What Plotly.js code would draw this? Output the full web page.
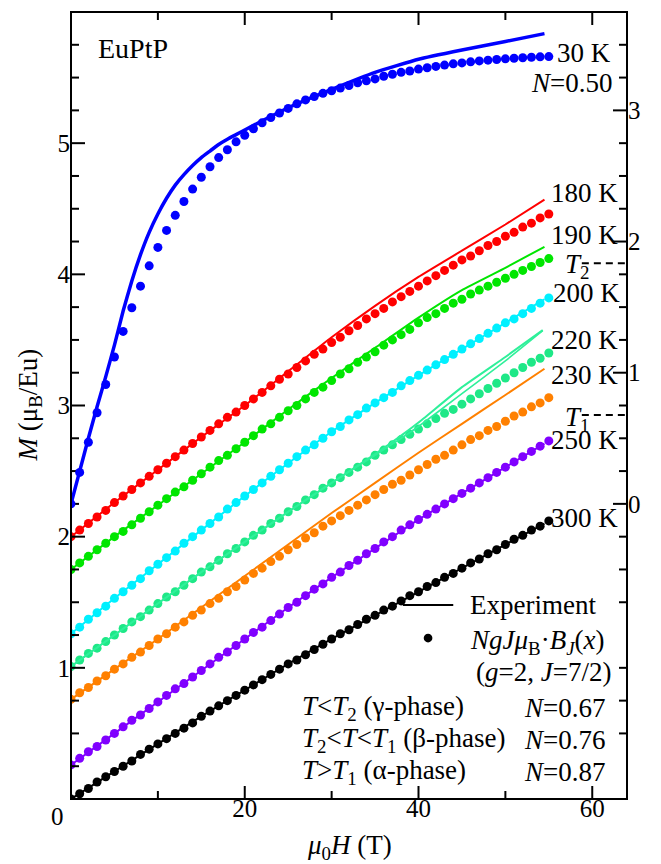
<!DOCTYPE html>
<html>
<head>
<meta charset="utf-8">
<script src="https://cdn.plot.ly/plotly-3.0.1.min.js"></script>
<style>html,body{margin:0;padding:0;background:#fff;}#chart{width:661px;height:864px;}</style>
</head>
<body>
<div id="chart"></div>
<script>
// ---- data ----
// field points of the Brillouin-fit dots (T)
var fieldDots = [0,1,2,3,4,5,6,7,8,9,10,11,12,13,14,15,16,17,18,19,20,21,22,23,24,25,26,27,28,29,30,31,32,33,34,35,36,37,38,39,40,41,42,43,44,45,46,47,48,49,50,51,52,53,54,55];
// field points of the experimental curves (T)
var fieldLine = [0,5,10,15,20,25,30,35,40,45,50,54.5];
var fieldLine30 = [0,1,2,3,4,5,6,7,8,9,10,11,12,13,14,15,16,17,18,19,20,22,25,30,35,40,45,50,54.5];
var fieldLine220 = [0,5,10,15,20,25,30,35,38,40,45,50,54.3];

// 30 K (right axis, muB/Eu)
var dots30 = [0,0.24,0.47,0.695,0.91,1.12,1.315,1.495,1.66,1.815,1.955,2.085,2.2,2.305,2.4,2.49,2.57,2.64,2.70,2.76,2.81,2.86,2.905,2.945,2.98,3.015,3.05,3.08,3.105,3.13,3.15,3.17,3.19,3.21,3.225,3.24,3.26,3.275,3.29,3.30,3.315,3.325,3.335,3.345,3.355,3.362,3.37,3.377,3.383,3.388,3.393,3.397,3.401,3.405,3.408,3.41];
var line30 = [0,0.25,0.5,0.74,0.97,1.21,1.47,1.70,1.90,2.07,2.21,2.33,2.43,2.51,2.58,2.64,2.69,2.74,2.78,2.815,2.85,2.92,3.02,3.16,3.29,3.39,3.46,3.525,3.585];

// offset curves (left axis)
var dots180 = [2.00,2.05,2.10,2.15,2.20,2.26,2.31,2.36,2.41,2.46,2.51,2.56,2.61,2.66,2.71,2.76,2.81,2.86,2.91,2.95,3.00,3.05,3.10,3.15,3.20,3.24,3.29,3.34,3.39,3.43,3.48,3.52,3.57,3.61,3.66,3.70,3.74,3.79,3.83,3.87,3.91,3.95,3.99,4.03,4.07,4.11,4.14,4.18,4.22,4.25,4.29,4.32,4.36,4.39,4.43,4.46];
var line180 = [2.00,2.26,2.51,2.76,3.00,3.26,3.52,3.76,3.98,4.18,4.38,4.57];

var dots190 = [1.75,1.80,1.85,1.90,1.95,2.00,2.04,2.09,2.14,2.19,2.24,2.29,2.34,2.38,2.43,2.48,2.53,2.58,2.62,2.67,2.72,2.77,2.82,2.86,2.91,2.96,3.00,3.05,3.10,3.14,3.19,3.24,3.28,3.33,3.37,3.41,3.46,3.50,3.54,3.58,3.63,3.67,3.70,3.74,3.78,3.81,3.85,3.88,3.91,3.94,3.97,4.00,4.03,4.06,4.09,4.12];
var line190 = [1.75,2.00,2.24,2.48,2.72,2.97,3.21,3.44,3.67,3.88,4.05,4.21];

var dots200 = [1.26,1.31,1.37,1.42,1.47,1.53,1.58,1.63,1.68,1.74,1.79,1.84,1.89,1.95,2.00,2.05,2.10,2.15,2.21,2.26,2.31,2.36,2.41,2.46,2.51,2.56,2.61,2.66,2.70,2.75,2.80,2.84,2.89,2.93,2.98,3.02,3.06,3.10,3.15,3.19,3.23,3.27,3.31,3.35,3.39,3.43,3.47,3.51,3.55,3.59,3.63,3.66,3.70,3.74,3.78,3.82];
var line200 = [1.26,1.53,1.79,2.05,2.31,2.56,2.80,3.02,3.23,3.43,3.63,3.81];

var dots220 = [1.01,1.06,1.11,1.15,1.20,1.25,1.30,1.35,1.39,1.44,1.49,1.54,1.58,1.63,1.68,1.73,1.77,1.82,1.87,1.91,1.96,2.01,2.05,2.10,2.14,2.19,2.23,2.28,2.32,2.37,2.41,2.45,2.49,2.53,2.57,2.62,2.66,2.70,2.74,2.78,2.82,2.86,2.90,2.94,2.97,3.01,3.05,3.09,3.13,3.17,3.21,3.25,3.29,3.33,3.36,3.40];
var line220up = [1.01,1.25,1.49,1.73,1.96,2.19,2.41,2.63,2.77,2.87,3.14,3.37,3.575];
var line220down = [1.01,1.25,1.49,1.73,1.96,2.19,2.41,2.62,2.75,2.84,3.09,3.34,3.57];

var dots230 = [0.76,0.81,0.85,0.90,0.94,0.99,1.03,1.08,1.12,1.17,1.22,1.26,1.31,1.35,1.40,1.44,1.49,1.53,1.58,1.62,1.67,1.72,1.76,1.81,1.85,1.90,1.94,1.99,2.03,2.08,2.12,2.16,2.20,2.24,2.28,2.32,2.36,2.40,2.43,2.47,2.51,2.55,2.59,2.62,2.66,2.70,2.74,2.77,2.81,2.84,2.88,2.92,2.95,2.99,3.02,3.06];
var line230 = [0.76,0.99,1.22,1.46,1.70,1.94,2.18,2.41,2.64,2.86,3.08,3.28];

var dots250 = [0.26,0.31,0.36,0.40,0.45,0.50,0.55,0.60,0.64,0.69,0.74,0.79,0.84,0.88,0.93,0.98,1.03,1.08,1.12,1.17,1.22,1.27,1.31,1.36,1.41,1.46,1.50,1.55,1.60,1.64,1.69,1.73,1.78,1.82,1.87,1.91,1.96,2.00,2.05,2.09,2.13,2.17,2.21,2.25,2.29,2.33,2.37,2.41,2.45,2.49,2.53,2.57,2.61,2.65,2.69,2.73];
var line250 = [0.26,0.50,0.74,0.98,1.22,1.46,1.69,1.91,2.13,2.33,2.53,2.71];

var dots300 = [0.00,0.04,0.08,0.13,0.17,0.21,0.25,0.29,0.34,0.38,0.42,0.46,0.50,0.54,0.58,0.63,0.67,0.71,0.75,0.79,0.83,0.87,0.91,0.95,0.99,1.03,1.06,1.10,1.14,1.18,1.22,1.26,1.29,1.33,1.37,1.40,1.44,1.47,1.51,1.55,1.58,1.62,1.65,1.69,1.72,1.76,1.80,1.83,1.87,1.90,1.94,1.98,2.01,2.05,2.08,2.12];
var line300 = [0,0.21,0.42,0.63,0.83,1.03,1.22,1.40,1.58,1.76,1.94,2.10];

// tick labels
var xTickVals = [0,20,40,60];
var xTickText = ['','20','40','60'];
var xMinorVals = [10,30,50];
var yTickVals = [0,1,2,3,4,5,6];
var yTickText = ['','1','2','3','4','5','6'];
var y2TickVals = [0,1,2,3];

// ---- styling ----
var FONT = 'Liberation Serif, Times New Roman, Times, serif';
var X_MAX = 64, Y_MAX = 6;
var PX_X = 8.69, PX_Y = 131.2;   // pixels per axis unit, used for tick-mark lengths
function quarterTicks(lo, hi) {
  var v = [];
  for (var k = Math.round(lo * 4); k <= Math.round(hi * 4); k++) { if (k % 4 !== 0) v.push(k / 4); }
  return v;
}

var series = [
  {dots: dots300, line: line300, lx: fieldLine, color: '#000000', axis: 'y'},
  {dots: dots250, line: line250, lx: fieldLine, color: '#8000ff', axis: 'y'},
  {dots: dots230, line: line230, lx: fieldLine, color: '#ff8000', axis: 'y'},
  {dots: dots220, line: line220up, lx: fieldLine220, line2: line220down, color: '#1ee887', lineColor: '#2ef09a', axis: 'y'},
  {dots: dots200, line: line200, lx: fieldLine, color: '#00f0ff', axis: 'y'},
  {dots: dots190, line: line190, lx: fieldLine, color: '#00e600', axis: 'y'},
  {dots: dots180, line: line180, lx: fieldLine, color: '#ff0000', axis: 'y'},
  {dots: dots30, line: line30, lx: fieldLine30, color: '#0000ff', axis: 'y2', width: 3.5}
];

var traces = [];
series.forEach(function(s){
  traces.push({x: fieldDots, y: s.dots, yaxis: s.axis, type: 'scatter', mode: 'markers',
    marker: {color: s.color, size: 9}, hoverinfo: 'skip'});
});
series.forEach(function(s){
  traces.push({x: s.lx, y: s.line, yaxis: s.axis, type: 'scatter', mode: 'lines',
    line: {color: s.lineColor || s.color, width: s.width || 2, shape: 'spline', smoothing: 0.4}, hoverinfo: 'skip'});
  if (s.line2) {
    traces.push({x: s.lx, y: s.line2, yaxis: s.axis, type: 'scatter', mode: 'lines',
      line: {color: s.lineColor || s.color, width: 1.6, shape: 'spline', smoothing: 0.4}, hoverinfo: 'skip'});
  }
});

// inside tick marks (axis decoration) built from the tick values
var tx = [], ty = [], rx = [], ry = [];
function xTick(v, len) {
  var d = len / PX_Y;
  tx.push(v, v, null, v, v, null); ty.push(0, d, null, Y_MAX - d, Y_MAX, null);
}
function yTickL(v, len) { var d = len / PX_X; tx.push(0, d, null); ty.push(v, v, null); }
function yTickR(v, len) { var d = len / PX_X; rx.push(X_MAX - d, X_MAX, null); ry.push(v, v, null); }
xTickVals.forEach(function(v){ xTick(v, 13); });
xMinorVals.forEach(function(v){ xTick(v, 8); });
yTickVals.forEach(function(v){ yTickL(v, 14); });
quarterTicks(0, 6).forEach(function(v){ yTickL(v, 8); });
y2TickVals.forEach(function(v){ yTickR(v, 14); });
quarterTicks(-2.25, 3.75).forEach(function(v){ yTickR(v, 8); });
traces.push({x: tx, y: ty, type: 'scatter', mode: 'lines', line: {color: '#000', width: 2}, hoverinfo: 'skip', connectgaps: false});
traces.push({x: rx, y: ry, yaxis: 'y2', type: 'scatter', mode: 'lines', line: {color: '#000', width: 2}, hoverinfo: 'skip', connectgaps: false});

function ann(x, y, text, xa, size) {
  return {x: x, y: y, xref: 'x', yref: 'y', text: text, showarrow: false,
    xanchor: xa || 'right', yanchor: 'middle', font: {family: FONT, size: size || 27, color: '#000'}};
}

var annotations = [
  ann(2.88, 5.724, 'EuPtP', 'left', 28),
  ann(62.4, 5.686, '30 K'),
  ann(62.6, 5.457, '<i>N</i>=0.50'),
  ann(63.2, 4.62, '180 K'),
  ann(63.2, 4.30, '190 K'),
  ann(56.6, 4.06, '<i>T</i><sub>2</sub>', 'left'),
  ann(63.4, 3.857, '200 K'),
  ann(63.2, 3.50, '220 K'),
  ann(63.2, 3.23, '230 K'),
  ann(56.6, 2.90, '<i>T</i><sub>1</sub>', 'left'),
  ann(63.2, 2.736, '250 K'),
  ann(63.2, 2.142, '300 K'),
  ann(45.7, 1.479, 'Experiment', 'left'),
  ann(45.7, 1.197, '<i>NgJμ</i><sub>B</sub>·<i>B</i><sub><i>J</i></sub>(<i>x</i>)', 'left'),
  ann(62.4, 0.968, '(<i>g</i>=2, <i>J</i>=7/2)'),
  ann(26.35, 0.694, '<i>T</i>&lt;<i>T</i><sub>2</sub> (γ-phase)', 'left'),
  ann(61.8, 0.694, '<i>N</i>=0.67'),
  ann(26.35, 0.45, '<i>T</i><sub>2</sub>&lt;<i>T</i>&lt;<i>T</i><sub>1</sub> (β-phase)', 'left'),
  ann(61.8, 0.45, '<i>N</i>=0.76'),
  ann(26.35, 0.206, '<i>T</i>&gt;<i>T</i><sub>1</sub> (α-phase)', 'left'),
  ann(61.8, 0.206, '<i>N</i>=0.87'),
  {x: 0, y: 0, xref: 'x', yref: 'y', text: '0', showarrow: false, xanchor: 'center', yanchor: 'middle',
   xshift: -14, yshift: -17, font: {family: FONT, size: 25, color: '#000'}},
  // axis titles
  {x: 0.5, y: 0, xref: 'paper', yref: 'paper', text: '<i>μ</i><sub>0</sub><i>H</i> (T)', showarrow: false,
   xanchor: 'center', yanchor: 'middle', yshift: -48, font: {family: FONT, size: 27, color: '#000'}},
  {x: 0, y: 0.5, xref: 'paper', yref: 'paper', text: '<i>M</i> (μ<sub>B</sub>/Eu)', showarrow: false, textangle: -90,
   xanchor: 'center', yanchor: 'middle', xshift: -42, font: {family: FONT, size: 27, color: '#000'}}
];

var BLK = {color: '#000', width: 2};
var shapes = [
  {type: 'rect', xref: 'paper', yref: 'paper', x0: 0, x1: 1, y0: 0, y1: 1, line: BLK, fillcolor: 'rgba(0,0,0,0)'},
  {type: 'line', xref: 'x', yref: 'y', x0: 58.8, x1: 64, y0: 4.085, y1: 4.085, line: {color: '#000', width: 2, dash: '7px,5px'}},
  {type: 'line', xref: 'x', yref: 'y', x0: 58.8, x1: 64, y0: 2.927, y1: 2.927, line: {color: '#000', width: 2, dash: '7px,5px'}},
  {type: 'line', xref: 'x', yref: 'y', x0: 38.2, x1: 44.0, y0: 1.479, y1: 1.479, line: BLK},
  {type: 'circle', xref: 'x', yref: 'y', x0: 40.6, x1: 41.6, y0: 1.194, y1: 1.260, fillcolor: '#000', line: {color: '#000', width: 0}}
];

var tickFont = {family: FONT, size: 25, color: '#000'};
var layout = {
  width: 661, height: 864,
  margin: {l: 71, r: 34, t: 12, b: 65, pad: 0},
  paper_bgcolor: '#fff', plot_bgcolor: '#fff',
  showlegend: false, hovermode: false, dragmode: false,
  font: {family: FONT, color: '#000'},
  xaxis: {
    range: [0, X_MAX], tickmode: 'array', tickvals: xTickVals, ticktext: xTickText,
    ticks: '', ticklabelstandoff: -8,
    showline: false, showgrid: false, zeroline: false, tickfont: tickFont, automargin: false, fixedrange: true
  },
  yaxis: {
    range: [0, Y_MAX], tickmode: 'array', tickvals: yTickVals, ticktext: yTickText,
    ticks: '',
    showline: false, showgrid: false, zeroline: false, tickfont: tickFont, automargin: false, fixedrange: true
  },
  yaxis2: {
    overlaying: 'y', side: 'right',
    range: [-2.25, 3.75], tickmode: 'array', tickvals: y2TickVals,
    ticks: '',
    showline: false, showgrid: false, zeroline: false, tickfont: tickFont, automargin: false, fixedrange: true
  },
  annotations: annotations,
  shapes: shapes
};

Plotly.newPlot('chart', traces, layout, {displayModeBar: false});
</script>
</body>
</html>
